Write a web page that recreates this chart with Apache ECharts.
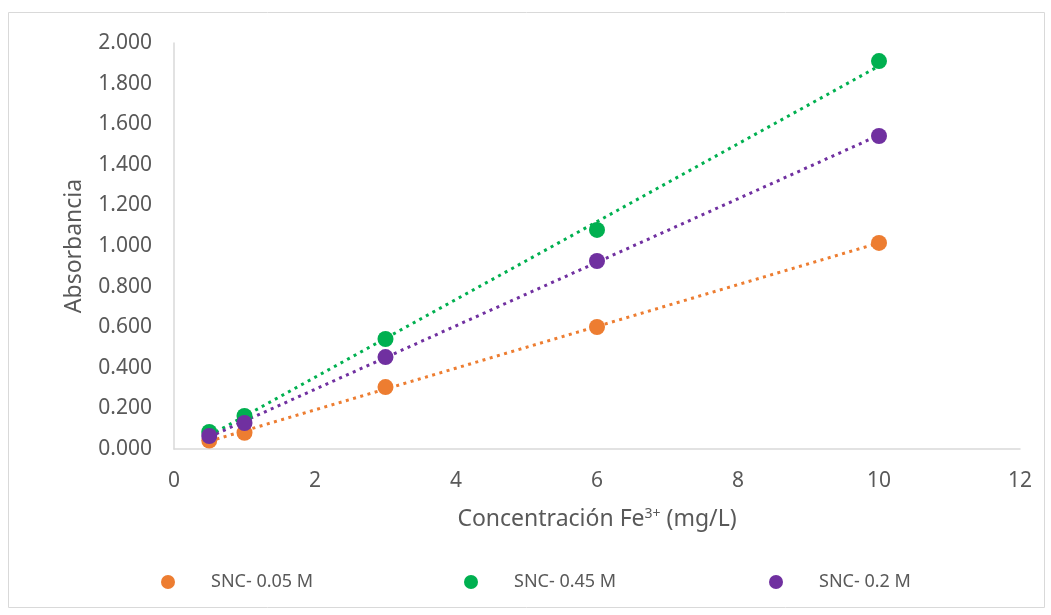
<!DOCTYPE html>
<html><head><meta charset="utf-8">
<script src="https://cdn.jsdelivr.net/npm/echarts@6/dist/echarts.min.js"></script>
<style>html,body{margin:0;padding:0;background:#fff}#c{width:1051px;height:615px}</style>
</head><body><div id="c"></div>
<script>
var concentrations = [0.5, 1, 3, 6, 10];
var snc005 = [0.042, 0.080, 0.305, 0.601, 1.015];
var snc045 = [0.084, 0.163, 0.542, 1.079, 1.911];
var snc02  = [0.064, 0.128, 0.453, 0.926, 1.542];
var seriesNames = ['SNC- 0.05 M', 'SNC- 0.45 M', 'SNC- 0.2 M'];
var colors = ['#ED7D31', '#00B050', '#7030A0'];
var yTicks = ['0.000','0.200','0.400','0.600','0.800','1.000','1.200','1.400','1.600','1.800','2.000'];

function fit(xs, ys) {
  var n = xs.length, sx=0, sy=0, sxx=0, sxy=0;
  for (var i=0;i<n;i++){sx+=xs[i];sy+=ys[i];sxx+=xs[i]*xs[i];sxy+=xs[i]*ys[i];}
  var b=(n*sxy-sx*sy)/(n*sxx-sx*sx), a=(sy-b*sx)/n;
  var x0=xs[0], x1=xs[n-1];
  return [[x0,a+b*x0],[x1,a+b*x1]];
}
var allData = [snc005, snc045, snc02];
var series = [];
allData.forEach(function(d, k){
  series.push({
    name: seriesNames[k] + ' trend', type: 'line', data: fit(concentrations, d),
    symbol: 'none', silent: true, z: 2,
    lineStyle: {color: colors[k], width: 3, type: [3, 4.5]}
  });
});
allData.forEach(function(d, k){
  series.push({
    name: seriesNames[k], type: 'scatter', symbol: 'circle', symbolSize: 16, z: 3,
    itemStyle: {color: colors[k], opacity: 1},
    data: concentrations.map(function(x, i){ return [x, d[i]]; })
  });
});
var font = 'Noto Sans';
var chart = echarts.init(document.getElementById('c'));
chart.setOption({
  animation: false,
  textStyle: {fontFamily: font},
  graphic: [{type:'rect', shape:{x:8.5,y:12.5,width:1036,height:595}, style:{fill:'none', stroke:'#d9d9d9', lineWidth:1}, silent:true}],
  grid: {left: 174, right: 31, top: 43, bottom: 166},
  legend: [0,1,2].map(function(k){
    return {data:[seriesNames[k]], left: [156, 459, 764][k], top: 568, icon:'circle', itemWidth: 14, itemHeight: 14, itemGap: 10,
      textStyle:{fontSize:18, color:'#595959', fontFamily: font, padding:[0,0,0,31]}};
  }),
  xAxis: {
    type: 'value', min: 0, max: 12, interval: 2,
    name: 'Concentración Fe{sup|3+} (mg/L)', nameLocation: 'middle', nameGap: 58,
    nameTextStyle: {fontSize: 23, color: '#595959', fontFamily: font,
      rich: {sup: {fontSize: 14, color:'#595959', verticalAlign:'top', padding:[0,0,10,0], fontFamily: font}}},
    axisLine: {show: true, lineStyle: {color: '#d9d9d9', width: 1.5}},
    axisTick: {show: false},
    splitLine: {show: false},
    axisLabel: {fontSize: 21, color: '#595959', margin: 22}
  },
  yAxis: {
    type: 'value', min: 0, max: 2, interval: 0.2,
    name: 'Absorbancia', nameLocation: 'middle', nameGap: 88,
    nameTextStyle: {fontSize: 23, color: '#595959', fontFamily: font},
    axisLine: {show: true, lineStyle: {color: '#d9d9d9', width: 1.5}},
    axisTick: {show: false},
    splitLine: {show: false},
    axisLabel: {fontSize: 21, color: '#595959', margin: 22,
      formatter: function(v){ return yTicks[Math.round(v/0.2)]; }}
  },
  series: series
});
</script></body></html>
